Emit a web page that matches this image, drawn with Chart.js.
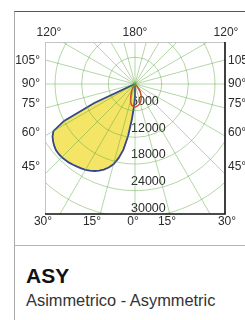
<!DOCTYPE html>
<html>
<head>
<meta charset="utf-8">
<script src="https://cdn.jsdelivr.net/npm/chart.js@4.4.1/dist/chart.umd.min.js"></script>
<style>
html, body { margin:0; padding:0; width:245px; height:320px; overflow:hidden; background:#fff; font-family:"Liberation Sans", Arial, sans-serif; }
#card { position:absolute; left:14px; top:11px; width:300px; height:320px; border-left:1px solid #aaa; border-top:1px solid #555; }
#divider { position:absolute; left:14px; top:245px; width:300px; border-top:1px solid #b4b4b4; }
#chart { position:absolute; left:0; top:0; }
#title { position:absolute; left:26px; top:265px; font-size:21px; line-height:21px; font-weight:bold; color:#111; }
#subtitle { position:absolute; left:26px; top:292px; font-size:16.4px; line-height:16.4px; color:#333; white-space:nowrap; }
</style>
</head>
<body>
<div id="card"></div>
<div id="divider"></div>
<canvas id="chart" width="262" height="244"></canvas>
<div id="title">ASY</div>
<div id="subtitle">Asimmetrico - Asymmetric</div>
<script>
// angles measured from nadir (0°), turning to the left side first
const stepDeg = 2.5;
const angleCategories = [];
for (let a = 0; a < 360; a += stepDeg) angleCategories.push(a);

// yellow lobe (cd), every 2.5° from 0° to 65°
const lobeAngles = [0, 2.5, 5, 7.5, 10, 12.5, 15, 17.5, 20, 22.5, 25, 27.5, 30, 32.5, 35, 37.5, 40, 42.5, 45, 47.5, 50, 52.5, 55, 57.5, 60, 62.5, 65];
const lobeCd = [2900, 5000, 7900, 11700, 15000, 17100, 18700, 19700, 20500, 21100, 21600, 22000, 22300, 22500, 22700, 22900, 23100, 23200, 23300, 23300, 23200, 22900, 22500, 22000, 21200, 18000, 10100];

// red curve (cd), 320°..360° is the right-hand side
const redAngles = [320, 322.5, 325, 327.5, 330, 332.5, 335, 337.5, 340, 342.5, 345, 347.5, 350, 352.5, 355, 357.5, 0, 2.5, 5, 7.5, 10, 12.5, 15, 17.5, 20, 22.5, 25, 27.5, 30];
const redCd = [1100, 1500, 1900, 2300, 2600, 3000, 3300, 3600, 3900, 4200, 4400, 4600, 4800, 4900, 5000, 5100, 5200, 5100, 5000, 4900, 4700, 4300, 3800, 3200, 2700, 2200, 1700, 1300, 900];

// rings
const ringStep = 6000;
const ringMax = 36000;

// angle tick texts round the frame
const topAngleText = ['120°', '180°', '120°'];
const sideAngleText = ['105°', '90°', '75°', '60°', '45°'];
const bottomAngleText = ['30°', '15°', '0°', '15°', '30°'];

// layout
const center = {x: 135, y: 84};
const radiusPx = 160;
const frame = {left: 45, top: 42, right: 225, bottom: 214};
const topLabelX = [49, 135, 226];
const sideLabelY = [61, 84, 104, 133, 167];
const bottomLabelX = [43, 92, 133, 167, 227];

const gridColor = 'rgba(90,165,60,0.45)';
const textColor = '#2b2b2b';
const fontFamily = '"Liberation Sans", Arial, sans-serif';

function spread(angles, values) {
	return angleCategories.map(function (a) {
		const i = angles.indexOf(a);
		return i >= 0 ? values[i] : 0;
	});
}

const framePlugin = {
	id: 'frame',
	beforeDraw: function (chart) {
		const ctx = chart.ctx;
		ctx.save();
		ctx.beginPath();
		ctx.rect(frame.left, frame.top, frame.right - frame.left, frame.bottom - frame.top);
		ctx.clip();
	},
	beforeDatasetsDraw: function (chart) {
		// ring values, under the curves
		const ctx = chart.ctx;
		const r = chart.scales.r;
		ctx.save();
		ctx.font = '12.5px ' + fontFamily;
		ctx.fillStyle = textColor;
		ctx.textAlign = 'left';
		ctx.textBaseline = 'middle';
		r.ticks.forEach(function (t) {
			if (t.value === 0 || t.value >= ringMax) return;
			const d = r.getDistanceFromCenterForValue(t.value);
			ctx.fillText(String(t.value), r.xCenter - 4, r.yCenter + d - 9);
		});
		ctx.restore();
	},
	afterDraw: function (chart) {
		const ctx = chart.ctx;
		ctx.restore();

		ctx.save();
		ctx.strokeStyle = '#c4c4c4';
		ctx.lineWidth = 1;
		ctx.beginPath();
		ctx.moveTo(frame.left, frame.top + 0.5);
		ctx.lineTo(frame.right, frame.top + 0.5);
		ctx.moveTo(frame.left + 0.5, frame.top);
		ctx.lineTo(frame.left + 0.5, frame.bottom);
		ctx.stroke();
		ctx.strokeStyle = '#111';
		ctx.lineWidth = 1.6;
		ctx.beginPath();
		ctx.moveTo(frame.right, frame.top);
		ctx.lineTo(frame.right, frame.bottom);
		ctx.lineTo(frame.left, frame.bottom);
		ctx.stroke();

		ctx.font = '12px ' + fontFamily;
		ctx.fillStyle = textColor;
		ctx.textBaseline = 'middle';
		ctx.textAlign = 'center';
		topAngleText.forEach(function (t, i) { ctx.fillText(t, topLabelX[i], 33); });
		bottomAngleText.forEach(function (t, i) { ctx.fillText(t, bottomLabelX[i], 222); });
		sideAngleText.forEach(function (t, i) {
			ctx.textAlign = 'right';
			ctx.fillText(t, frame.left - 5, sideLabelY[i]);
			ctx.textAlign = 'left';
			ctx.fillText(t, frame.right + 3, sideLabelY[i]);
		});
		ctx.restore();
	}
};

new Chart(document.getElementById('chart'), {
	type: 'radar',
	data: {
		labels: angleCategories,
		datasets: [
			{
				data: spread(lobeAngles, lobeCd),
				backgroundColor: '#f4e566',
				borderColor: '#34478a',
				borderWidth: 1.8,
				fill: true,
				pointRadius: 0,
				order: 2
			},
			{
				data: spread(redAngles, redCd),
				borderColor: '#e0432b',
				borderWidth: 1.5,
				fill: false,
				pointRadius: 0,
				order: 1
			}
		]
	},
	options: {
		responsive: false,
		animation: false,
		events: [],
		layout: {padding: 0},
		plugins: {legend: {display: false}, tooltip: {enabled: false}},
		elements: {line: {tension: 0}},
		scales: {
			r: {
				min: 0,
				max: ringMax,
				startAngle: 180,
				ticks: {stepSize: ringStep, display: false},
				pointLabels: {display: false},
				grid: {circular: true, color: gridColor, lineWidth: 1, z: 1},
				angleLines: {
					color: function (c) { return c.index % 6 === 0 ? gridColor : 'rgba(0,0,0,0)'; },
					lineWidth: 1
				},
				afterFit: function (scale) {
					scale.xCenter = center.x;
					scale.yCenter = center.y;
					scale.drawingArea = radiusPx;
				}
			}
		}
	},
	plugins: [framePlugin]
});
</script>
</body>
</html>
